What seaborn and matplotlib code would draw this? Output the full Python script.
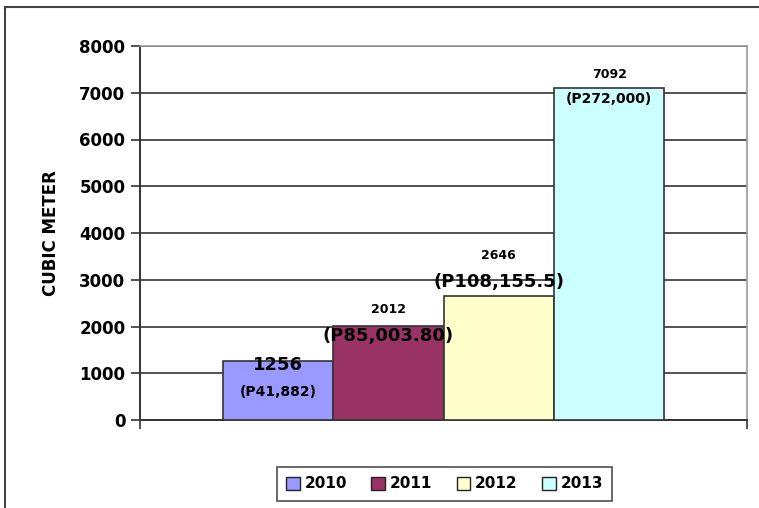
"""
plot.py
Cubic meter volume per year, with peso value labels (Excel-style bar chart).
"""

import matplotlib
matplotlib.use("Agg")
import matplotlib.pyplot as plt
from matplotlib.patches import Patch, Rectangle
import seaborn as sns
import pandas as pd

YEARS = ["2010", "2011", "2012", "2013"]
VOLUMES = [1256, 2012, 2646, 7092]
PESO_LABELS = ["(P41,882)", "(P85,003.80)", "(P108,155.5)", "(P272,000)"]
COLORS = ["#9999FF", "#993366", "#FFFFCC", "#CCFFFF"]

# label styling per bar: (offset pts, font size) for volume label, then peso label
VOL_STYLE = [(-2.5, 13), (12.0, 9), (29.5, 9), (9.7, 9)]
PESO_STYLE = [(-22.0, 10), (-7.0, 13), (10.0, 13), (-7.5, 10)]

sns.set_style("white")
plt.rcParams["font.family"] = ["DejaVu Sans"]
plt.rcParams.update({"text.color": "black", "axes.labelcolor": "black",
                     "xtick.color": "black", "ytick.color": "black"})

df = pd.DataFrame({"cat": [""] * len(YEARS), "year": YEARS, "volume": VOLUMES})

fig = plt.figure(figsize=(7.59, 5.08), dpi=100)
ax = fig.add_axes([140 / 759, 88 / 508, 607 / 759, 374 / 508])

sns.barplot(data=df, x="cat", y="volume", hue="year", palette=COLORS,
            saturation=1, width=0.728, edgecolor="#333333", linewidth=1.2,
            legend=False, ax=ax, zorder=3)

ax.set_xlim(-0.5, 0.5)
ax.set_ylim(0, 8000)
ax.set_yticks(range(0, 8001, 1000))
ax.set_yticklabels([str(v) for v in range(0, 8001, 1000)],
                   fontsize=12, fontweight="bold")
ax.set_xticks([-0.5, 0.5])
ax.set_xticklabels(["", ""])
ax.set_xlabel("")
ax.set_ylabel("CUBIC METER", fontsize=12, fontweight="bold", labelpad=14)
ax.tick_params(axis="both", direction="out", length=6.5, width=1.2,
               color="#333333", pad=4, left=True, bottom=True)
ax.grid(axis="y", color="#333333", linewidth=1.2, zorder=0)
ax.set_axisbelow(True)

for side in ["left", "bottom"]:
    ax.spines[side].set_color("#333333")
    ax.spines[side].set_linewidth(1.4)
for side in ["top", "right"]:
    ax.spines[side].set_color("#999999")
    ax.spines[side].set_linewidth(1.2)

for i, cont in enumerate(ax.containers):
    bar = cont.patches[0]
    xc = bar.get_x() + bar.get_width() / 2
    h = bar.get_height()
    off, fs = VOL_STYLE[i]
    ax.annotate(str(VOLUMES[i]), (xc, h), xytext=(0, off), textcoords="offset points",
                ha="center", va="center", fontsize=fs, fontweight="bold", zorder=5)
    off, fs = PESO_STYLE[i]
    ax.annotate(PESO_LABELS[i], (xc, h), xytext=(0, off), textcoords="offset points",
                ha="center", va="center", fontsize=fs, fontweight="bold", zorder=5)

handles = [Patch(facecolor=c, edgecolor="#222222", linewidth=1.0) for c in COLORS]
leg = fig.legend(handles, YEARS, loc="center", bbox_to_anchor=(444.5 / 759, 24 / 508),
                 ncol=4, frameon=True, fancybox=False, shadow=False,
                 handlelength=0.9, handleheight=0.9, handletextpad=0.3,
                 columnspacing=1.6, borderpad=0.6,
                 prop={"weight": "bold", "size": 11})
leg.get_frame().set_edgecolor("#222222")
leg.get_frame().set_linewidth(1.2)

# outer chart-area border
fig.add_artist(Rectangle((5 / 759, -0.5), 2.0, 0.5 + 501 / 508, transform=fig.transFigure,
                         fill=False, edgecolor="#444444", linewidth=1.5))

plt.savefig("out.png", dpi=100)
plt.close()
